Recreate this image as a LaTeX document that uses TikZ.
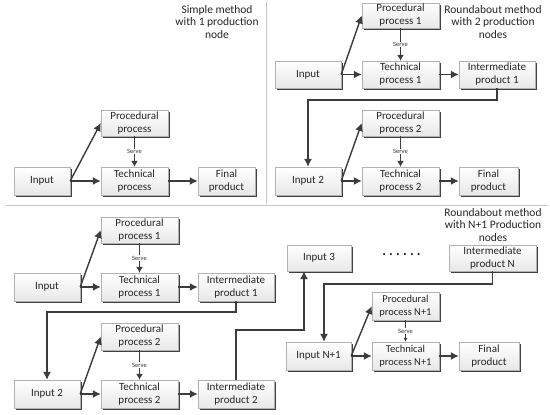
\documentclass[tikz,border=0pt]{standalone}
\usepackage{fontspec}
\setmainfont{Carlito}
\usetikzlibrary{shadows,arrows.meta}
\definecolor{arr}{HTML}{3C3C3C}
\begin{document}
\begin{tikzpicture}[x=1pt,y=-1pt,
 box/.style={draw=gray!60, line width=0.4pt, top color=white, bottom color=gray!18,
   drop shadow={shadow xshift=1.6pt,shadow yshift=-1.6pt,fill=black!75,opacity=1},
   align=center, inner sep=1pt, font=\fontsize{11}{13}\selectfont, text=black!85},
 flow/.style={draw=arr, line width=1.4pt, -{Latex[length=8pt,width=8pt]}},
 link/.style={draw=arr, line width=1.1pt, -{Latex[length=8pt,width=8pt]}},
 serve/.style={draw=arr, line width=1.1pt, -{Latex[length=6pt,width=7pt]}},
 thinserve/.style={draw=arr, line width=0.6pt, -{Latex[length=4pt,width=4pt]}},
 servelbl/.style={fill=white, inner sep=0.6pt, font=\fontsize{6.5}{7}\selectfont, text=black!80},
 title/.style={align=center, font=\fontsize{11.5}{12.8}\selectfont, text=black!85},
 divider/.style={draw=gray!45, line width=0.8pt}]
\fill[white] (0,0) rectangle (550,415);
\useasboundingbox (0,0) rectangle (550,415);

% dividers
\draw[divider] (266,2) -- (266,204);
\draw[divider] (6,205) -- (548,205);

% titles
\node[title] (t1) at (217,22) {Simple method\\with 1 production\\node};
\node[title] (t2) at (493,22) {Roundabout method\\with 2 production\\nodes};
\node[title] (t3) at (493,225) {Roundabout method\\with N+1 Production\\nodes};

% ---------- top-left ----------
\node[box, minimum width=56pt, minimum height=28pt] (tlIn) at (42,181) {Input};
\node[box, minimum width=67pt, minimum height=26pt] (tlPP) at (134.5,123) {Procedural\\process};
\node[box, minimum width=67pt, minimum height=28pt] (tlTP) at (134.5,181) {Technical\\process};
\node[box, minimum width=57pt, minimum height=28pt] (tlFP) at (226.5,181) {Final\\product};
\draw[flow] (tlIn.east) -- (tlPP.west);
\draw[flow] (tlIn.east) -- (tlTP.west);
\draw[flow] (tlTP.east) -- (tlFP.west);
\draw[serve] (tlPP.south) -- node[servelbl]{Serve} (tlTP.north);

% ---------- top-right ----------
\node[box, minimum width=66pt, minimum height=27pt] (trIn) at (308,74.5) {Input};
\node[box, minimum width=77pt, minimum height=25pt] (trPP1) at (400.5,15.5) {Procedural\\process 1};
\node[box, minimum width=77pt, minimum height=27pt] (trTP1) at (400.5,74.5) {Technical\\process 1};
\node[box, minimum width=76pt, minimum height=27pt] (trIP1) at (497,74.5) {Intermediate\\product 1};
\node[box, minimum width=77pt, minimum height=26pt] (trPP2) at (400.5,123) {Procedural\\process 2};
\node[box, minimum width=66pt, minimum height=28pt] (trIn2) at (308,181) {Input 2};
\node[box, minimum width=77pt, minimum height=28pt] (trTP2) at (400.5,181) {Technical\\process 2};
\node[box, minimum width=59pt, minimum height=28pt] (trFP) at (488.5,181) {Final\\product};
\draw[flow] (trIn.east) -- (trPP1.west);
\draw[flow] (trIn.east) -- (trTP1.west);
\draw[flow] (trTP1.east) -- (trIP1.west);
\draw[serve] (trPP1.south) -- node[servelbl]{Serve} (trTP1.north);
\coordinate (trc) at (0,100);
\draw[link] (trIP1.south) -- (trIP1.south |- trc) -| (trIn2.north);
\draw[flow] (trIn2.east) -- (trPP2.west);
\draw[flow] (trIn2.east) -- (trTP2.west);
\draw[flow] (trTP2.east) -- (trFP.west);
\draw[serve] (trPP2.south) -- node[servelbl]{Serve} (trTP2.north);

% ---------- bottom-left ----------
\node[box, minimum width=77pt, minimum height=26pt] (blPP1) at (139.5,230) {Procedural\\process 1};
\node[box, minimum width=66pt, minimum height=28pt] (blIn) at (47,287) {Input};
\node[box, minimum width=77pt, minimum height=28pt] (blTP1) at (139.5,287) {Technical\\process 1};
\node[box, minimum width=76pt, minimum height=28pt] (blIP1) at (236,287) {Intermediate\\product 1};
\node[box, minimum width=77pt, minimum height=27pt] (blPP2) at (139.5,336.5) {Procedural\\process 2};
\node[box, minimum width=66pt, minimum height=28pt] (blIn2) at (47,394) {Input 2};
\node[box, minimum width=77pt, minimum height=28pt] (blTP2) at (139.5,394) {Technical\\process 2};
\node[box, minimum width=76pt, minimum height=28pt] (blIP2) at (236,394) {Intermediate\\product 2};
\draw[flow] (blIn.east) -- (blPP1.west);
\draw[flow] (blIn.east) -- (blTP1.west);
\draw[flow] (blTP1.east) -- (blIP1.west);
\draw[serve] (blPP1.south) -- node[servelbl]{Serve} (blTP1.north);
\coordinate (blc1) at (0,312);
\draw[link] (blIP1.south) -- (blIP1.south |- blc1) -| (blIn2.north);
\draw[flow] (blIn2.east) -- (blPP2.west);
\draw[flow] (blIn2.east) -- (blTP2.west);
\draw[flow] (blTP2.east) -- (blIP2.west);
\draw[serve] (blPP2.south) -- node[servelbl]{Serve} (blTP2.north);

% ---------- bottom-right ----------
\node[box, minimum width=64pt, minimum height=26pt] (brIn3) at (319,258) {Input 3};
\node[box, minimum width=87pt, minimum height=26pt] (brIPN) at (492.5,258) {Intermediate\\product N};
\node[font=\fontsize{14}{14}\selectfont\bfseries, text=black!90, inner sep=0pt] (dots) at (401.5,255) {.\kern3.2pt.\kern3.2pt.\kern3.2pt.\kern3.2pt.\kern3.2pt.};
\node[box, minimum width=67pt, minimum height=28pt, font=\fontsize{10.5}{12.5}\selectfont] (brPP) at (405.5,306) {Procedural\\process N+1};
\node[box, minimum width=65pt, minimum height=28pt] (brIn) at (318.5,356) {Input N+1};
\node[box, minimum width=67pt, minimum height=28pt, font=\fontsize{10.5}{12.5}\selectfont] (brTP) at (405.5,356) {Technical\\process N+1};
\node[box, minimum width=60pt, minimum height=28pt] (brFP) at (489,356) {Final\\product};
\coordinate (blc2) at (304,330);
\draw[link] (blIP2.north) |- (blc2) -- (blc2 |- brIn3.south);
\coordinate (brc) at (324,284);
\draw[link] (brIPN.south) |- (brc) -- (brc |- brIn.north);
\draw[flow] (brIn.east) -- (brPP.west);
\draw[flow] (brIn.east) -- (brTP.west);
\draw[flow] (brTP.east) -- (brFP.west);
\draw[thinserve] (brPP.south) -- node[servelbl]{Serve} (brTP.north);
\end{tikzpicture}
\end{document}
